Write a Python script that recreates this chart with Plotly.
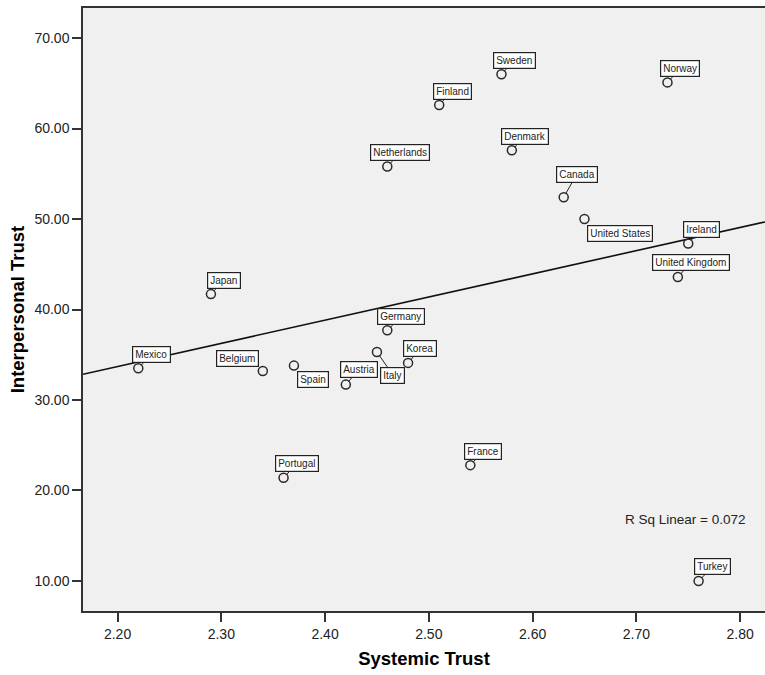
import numpy as np
import plotly.graph_objects as go

# Country-level trust measures
countries = [
    "Sweden", "Norway", "Finland", "Denmark", "Netherlands", "Canada",
    "United States", "Ireland", "United Kingdom", "Japan", "Germany",
    "Mexico", "Belgium", "Spain", "Italy", "Korea", "Austria",
    "Portugal", "France", "Turkey",
]
systemic_trust = [
    2.57, 2.73, 2.51, 2.58, 2.46, 2.63,
    2.65, 2.75, 2.74, 2.29, 2.46,
    2.22, 2.34, 2.37, 2.45, 2.48, 2.42,
    2.36, 2.54, 2.76,
]
interpersonal_trust = [
    66.0, 65.1, 62.6, 57.6, 55.8, 52.4,
    50.0, 47.3, 43.6, 41.7, 37.7,
    33.5, 33.2, 33.8, 35.3, 34.1, 31.7,
    21.4, 22.8, 10.0,
]
r_sq_text = "R Sq Linear = 0.072"

x_ticks = [2.20, 2.30, 2.40, 2.50, 2.60, 2.70, 2.80]
y_ticks = [10, 20, 30, 40, 50, 60, 70]

# label box placement (pixel offsets of the box centre from its point)
label_offsets = {
    "Sweden": (13, -14), "Norway": (13, -14), "Finland": (13, -14),
    "Denmark": (13, -14), "Netherlands": (13, -14), "Canada": (13, -23),
    "United States": (36, 14), "Ireland": (13, -14), "United Kingdom": (13, -14),
    "Japan": (13, -14), "Germany": (14, -14), "Mexico": (13, -14),
    "Belgium": (-25, -13), "Spain": (19, 14), "Italy": (16, 23),
    "Korea": (12, -14), "Austria": (13, -15), "Portugal": (13, -14),
    "France": (13, -14), "Turkey": (14, -14),
}
# boxes that sit right against their point, drawn without a leader line
no_leader = {"United States", "Belgium", "Spain"}

x_range = [2.1667, 2.824]
y_range = [6.68, 73.32]

# least-squares fit line across the full x range
slope, intercept = np.polyfit(systemic_trust, interpersonal_trust, 1)
fit_x = np.array(x_range)
fit_y = slope * fit_x + intercept

fig = go.Figure()

fig.add_trace(go.Scatter(
    x=fit_x, y=fit_y, mode="lines",
    line=dict(color="#111111", width=1.6),
    hoverinfo="skip", showlegend=False,
))

fig.add_trace(go.Scatter(
    x=systemic_trust, y=interpersonal_trust, mode="markers",
    marker=dict(symbol="circle-open", size=9, color="#2a2a2a",
                line=dict(width=1.5, color="#2a2a2a")),
    text=countries, showlegend=False,
))

label_font = dict(family="Arial, Liberation Sans", size=10, color="#222222")
for name, sx, iy in zip(countries, systemic_trust, interpersonal_trust):
    ox, oy = label_offsets[name]
    box = dict(font=label_font, bgcolor="white", bordercolor="#222222",
               borderwidth=1.2, borderpad=2)
    if name in no_leader:
        fig.add_annotation(x=sx, y=iy, xref="x", yref="y", text=name,
                           showarrow=False, xshift=ox, yshift=-oy, **box)
    else:
        fig.add_annotation(x=sx, y=iy, xref="x", yref="y", text=name,
                           showarrow=True, ax=ox, ay=oy, arrowhead=0,
                           arrowwidth=1, arrowcolor="#222222", standoff=4, **box)

fig.add_annotation(
    x=0.883, y=0.151, xref="paper", yref="paper",
    xanchor="center", yanchor="middle",
    text=r_sq_text, showarrow=False,
    font=dict(family="Arial, Liberation Sans", size=13.5, color="#222222"),
)

axis_font = dict(family="Arial, Liberation Sans", size=14, color="#222222")
title_font = dict(family="Arial, Liberation Sans", size=18.5, color="#000000")

fig.update_layout(
    width=765, height=675,
    margin=dict(l=83, r=0, t=8, b=64),
    paper_bgcolor="white", plot_bgcolor="#f0f0f0",
    xaxis=dict(
        range=x_range, tickvals=x_ticks, ticktext=[f"{v:.2f}" for v in x_ticks],
        ticks="outside", ticklen=9, tickwidth=1.5, tickcolor="#333333",
        showline=True, linecolor="#333333", linewidth=1.5, mirror=True,
        showgrid=False, zeroline=False, tickfont=axis_font,
        title=dict(text="<b>Systemic Trust</b>", font=title_font, standoff=12),
    ),
    yaxis=dict(
        range=y_range, tickvals=y_ticks, ticktext=[f"{v:.2f}" for v in y_ticks],
        ticks="outside", ticklen=9, tickwidth=1.5, tickcolor="#333333",
        showline=True, linecolor="#333333", linewidth=1.5, mirror=False,
        showgrid=False, zeroline=False, tickfont=axis_font,
        title=dict(text="<b>Interpersonal Trust</b>", font=title_font, standoff=5),
    ),
)

fig.write_html("out.html")
